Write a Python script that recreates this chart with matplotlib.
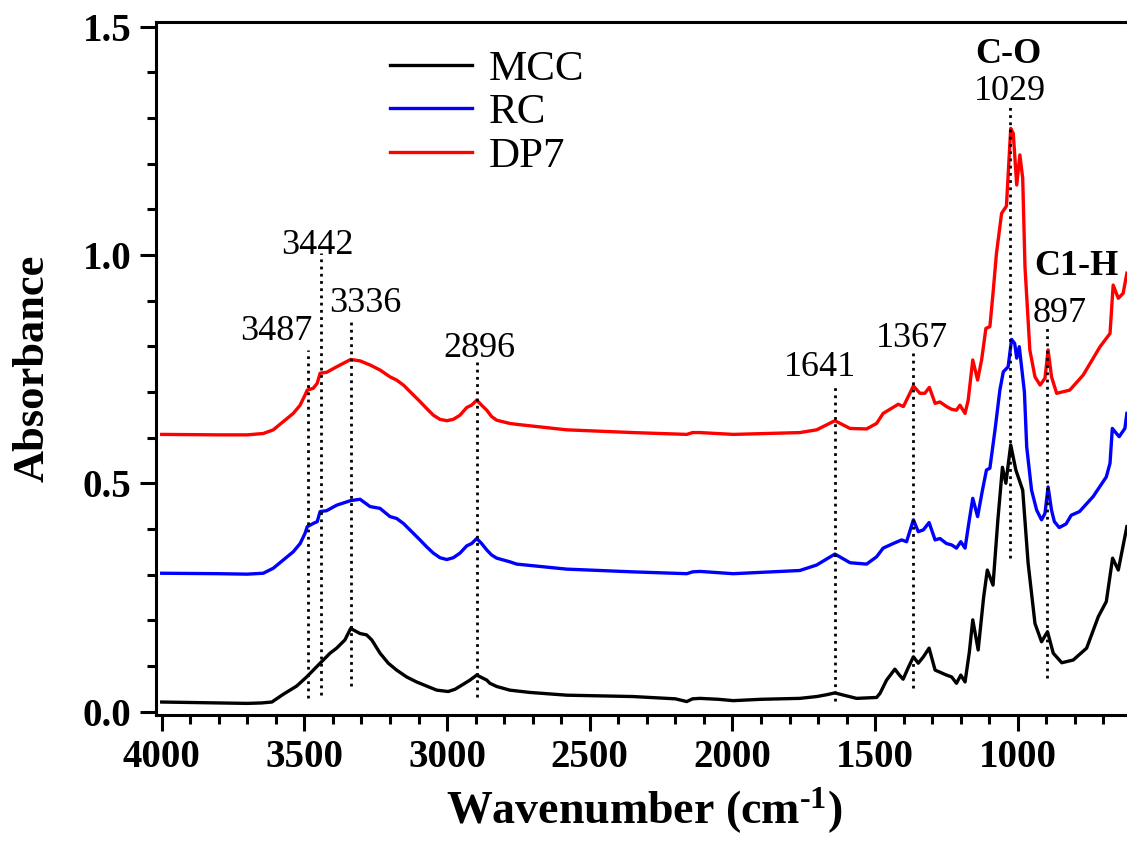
import matplotlib
matplotlib.use('Agg')
import matplotlib.pyplot as plt
from matplotlib.ticker import MultipleLocator

plt.rcParams['font.family'] = ['Liberation Serif', 'DejaVu Serif']
plt.rcParams['mathtext.fontset'] = 'custom'
plt.rcParams['mathtext.rm'] = 'Liberation Serif:bold'
plt.rcParams['mathtext.bf'] = 'Liberation Serif:bold'
plt.rcParams['mathtext.default'] = 'bf'

# FTIR spectra (wavenumber in cm-1, absorbance)
mcc_wn = [4000, 3900, 3800, 3700, 3650, 3614, 3574, 3527, 3492, 3445, 3410, 3387, 3358, 3338,
          3305, 3282, 3264, 3235, 3206, 3177, 3142, 3107, 3060, 3036, 2996, 2972, 2943, 2920,
          2896, 2861, 2850, 2826, 2780, 2710, 2581, 2348, 2200, 2160, 2140, 2114, 2050, 1997,
          1900, 1764, 1705, 1670, 1641, 1610, 1565, 1530, 1495, 1483, 1460, 1431, 1415,
          1402, 1385, 1366, 1349, 1331, 1311, 1290, 1250, 1232, 1215, 1200, 1185,
          1170, 1158, 1139, 1120, 1107, 1087, 1070, 1054, 1042, 1025, 1007, 983,
          964, 940, 917, 896, 876, 846, 806, 759, 718, 690, 668, 648, 618]
mcc_abs = [0.021, 0.020, 0.019, 0.018, 0.019, 0.021, 0.038, 0.056, 0.076, 0.106, 0.128, 0.139, 0.157, 0.182,
           0.171, 0.168, 0.157, 0.128, 0.106, 0.091, 0.076, 0.065, 0.053, 0.047, 0.044, 0.049, 0.060, 0.069,
           0.080, 0.069, 0.062, 0.055, 0.047, 0.042, 0.036, 0.033, 0.028, 0.022, 0.028, 0.029, 0.027, 0.024,
           0.027, 0.029, 0.033, 0.037, 0.041, 0.036, 0.029, 0.030, 0.031, 0.040, 0.069, 0.093, 0.080,
           0.071, 0.095, 0.120, 0.106, 0.120, 0.139, 0.091, 0.080, 0.076, 0.062, 0.080, 0.065,
           0.130, 0.201, 0.135, 0.250, 0.310, 0.277, 0.420, 0.535, 0.500, 0.584, 0.529, 0.485,
           0.325, 0.193, 0.153, 0.175, 0.128, 0.107, 0.113, 0.139, 0.208, 0.241, 0.336, 0.310, 0.405]

rc_wn = [4000, 3800, 3700, 3644, 3609, 3574, 3539, 3515, 3498, 3490, 3469, 3455, 3445, 3422,
         3387, 3338, 3305, 3270, 3235, 3200, 3177, 3153, 3124, 3095, 3072, 3048, 3025, 3001,
         2978, 2955, 2931, 2914, 2896, 2879, 2861, 2844, 2826, 2780, 2756,
         2581, 2348, 2160, 2140, 2114, 1997, 1764, 1705, 1641, 1588, 1530, 1495,
         1472, 1437, 1407, 1390, 1366, 1349, 1331, 1311, 1290, 1273, 1250, 1232,
         1215, 1200, 1185, 1170, 1158, 1141, 1124, 1110, 1098, 1080, 1063, 1051,
         1034, 1022, 1011, 1004, 995, 987, 977, 969, 952, 934, 917, 905, 894, 882,
         872, 855, 831, 813, 784, 736, 690, 677, 669, 645, 625, 618]
rc_abs = [0.303, 0.302, 0.301, 0.303, 0.314, 0.332, 0.350, 0.368, 0.390, 0.405, 0.412, 0.416, 0.438, 0.440,
          0.452, 0.462, 0.465, 0.449, 0.445, 0.427, 0.423, 0.412, 0.394, 0.376, 0.361, 0.347, 0.337, 0.333,
          0.337, 0.347, 0.363, 0.368, 0.379, 0.368, 0.354, 0.343, 0.336, 0.328, 0.323,
          0.312, 0.306, 0.302, 0.306, 0.307, 0.302, 0.309, 0.321, 0.345, 0.326, 0.323, 0.339,
          0.358, 0.368, 0.376, 0.372, 0.420, 0.394, 0.398, 0.414, 0.376, 0.379, 0.368, 0.365,
          0.358, 0.372, 0.358, 0.420, 0.467, 0.427, 0.485, 0.529, 0.533, 0.617, 0.704, 0.744,
          0.755, 0.815, 0.806, 0.774, 0.799, 0.755, 0.700, 0.580, 0.485, 0.441, 0.420, 0.434, 0.492, 0.441,
          0.416, 0.403, 0.411, 0.430, 0.438, 0.471, 0.514, 0.544, 0.620, 0.602, 0.620, 0.653]

dp7_wn = [4000, 3800, 3700, 3644, 3609, 3574, 3539, 3515, 3498, 3490, 3469, 3455, 3445, 3422,
          3387, 3338, 3305, 3270, 3235, 3200, 3177, 3153, 3124, 3095, 3072, 3048, 3025, 3001,
          2978, 2955, 2931, 2914, 2896, 2879, 2861, 2844, 2826, 2780, 2756,
          2581, 2348, 2160, 2140, 2114, 1997, 1764, 1705, 1641, 1588, 1530, 1495,
          1472, 1419, 1401, 1366, 1343, 1326, 1310, 1290, 1273, 1250, 1232, 1215,
          1203, 1185, 1174, 1158, 1141, 1127, 1112, 1098, 1087, 1075, 1057, 1040,
          1025, 1016, 1004, 993, 983, 975, 958, 940, 922, 905, 894, 882, 864, 818,
          771, 712, 677, 666, 648, 631, 618]
dp7_abs = [0.607, 0.606, 0.606, 0.609, 0.617, 0.635, 0.653, 0.671, 0.693, 0.704, 0.708, 0.719, 0.741, 0.743,
           0.755, 0.771, 0.768, 0.759, 0.748, 0.733, 0.726, 0.715, 0.697, 0.679, 0.664, 0.649, 0.640, 0.637,
           0.640, 0.649, 0.666, 0.671, 0.682, 0.671, 0.660, 0.646, 0.638, 0.631, 0.629,
           0.617, 0.611, 0.607, 0.611, 0.611, 0.607, 0.611, 0.617, 0.637, 0.620, 0.619, 0.631,
           0.653, 0.673, 0.668, 0.713, 0.697, 0.697, 0.710, 0.675, 0.678, 0.668, 0.662, 0.660,
           0.671, 0.653, 0.682, 0.770, 0.726, 0.770, 0.839, 0.843, 0.916, 1.003, 1.091, 1.107,
           1.277, 1.266, 1.153, 1.219, 1.168, 0.974, 0.792, 0.733, 0.715, 0.730, 0.792, 0.733, 0.697, 0.704,
           0.737, 0.799, 0.828, 0.934, 0.905, 0.916, 0.960]

# marked bands
peak_labels = ['3487', '3442', '3336', '2896', '1641', '1367', '1029', '897']
peak_wn = [3487, 3442, 3336, 2896, 1641, 1367, 1029, 897]

# layout of the dotted guide lines and their labels
line_lo = [0.030, 0.036, 0.056, 0.033, 0.024, 0.052, 0.336, 0.073]
line_hi = [0.792, 1.004, 0.858, 0.766, 0.715, 0.785, 1.332, 0.846]
label_x = [3597, 3454, 3288, 2885, 1693, 1372, 1027, 853]
label_y = [0.814, 1.002, 0.876, 0.777, 0.735, 0.799, 1.339, 0.854]

fig = plt.figure(figsize=(11.27, 8.44), dpi=100)
ax = fig.add_axes([156 / 1127, 129 / 844, (1132 - 156) / 1127, (715 - 22) / 844])

ax.plot(mcc_wn, mcc_abs, color='black', lw=2.4, label='MCC', solid_joinstyle='round')
ax.plot(rc_wn, rc_abs, color='blue', lw=2.4, label='RC', solid_joinstyle='round')
ax.plot(dp7_wn, dp7_abs, color='red', lw=2.4, label='DP7', solid_joinstyle='round')

for i in range(len(peak_wn)):
    ax.plot([peak_wn[i], peak_wn[i]], [line_lo[i], line_hi[i]], color='black',
            lw=2, linestyle=(0, (1, 1.6)))
    ax.text(label_x[i], label_y[i], peak_labels[i], fontsize=26,
            ha='center', va='baseline')

ax.text(1034, 1.420, 'C-O', fontsize=26, fontweight='bold', ha='center', va='baseline')
ax.text(795, 0.956, 'C1-H', fontsize=26, fontweight='bold', ha='center', va='baseline')

ax.set_xlim(4020, 600)
ax.set_ylim(-0.0074, 1.51)

xt = [4000, 3500, 3000, 2500, 2000, 1500, 1000]
ax.set_xticks(xt, labels=[str(v) for v in xt], fontweight='bold', fontsize=28)
yt = [0.0, 0.5, 1.0, 1.5]
ax.set_yticks(yt, labels=['%.1f' % v for v in yt], fontweight='bold', fontsize=28)
ax.xaxis.set_minor_locator(MultipleLocator(100))
ax.yaxis.set_minor_locator(MultipleLocator(0.1))
ax.tick_params(which='major', direction='out', length=11.5, width=2.2, pad=6)
ax.tick_params(which='minor', direction='out', length=6.5, width=2.2)
ax.tick_params(top=False, right=False, which='both')

for side in ['left', 'bottom', 'top']:
    ax.spines[side].set_linewidth(2.2)
ax.spines['right'].set_visible(False)

ax.set_xlabel(r'Wavenumber (cm$^{\text{-}1}$)', fontsize=33, fontweight='bold', labelpad=7)
ax.set_ylabel('Absorbance', fontsize=32, fontweight='bold', labelpad=22)

ax.legend(loc='upper left', bbox_to_anchor=(0.222, 0.985), frameon=False,
          fontsize=31, handlelength=1.9, handletextpad=0.4, labelspacing=0.1,
          borderaxespad=0)

fig.savefig('out.png', dpi=100)
